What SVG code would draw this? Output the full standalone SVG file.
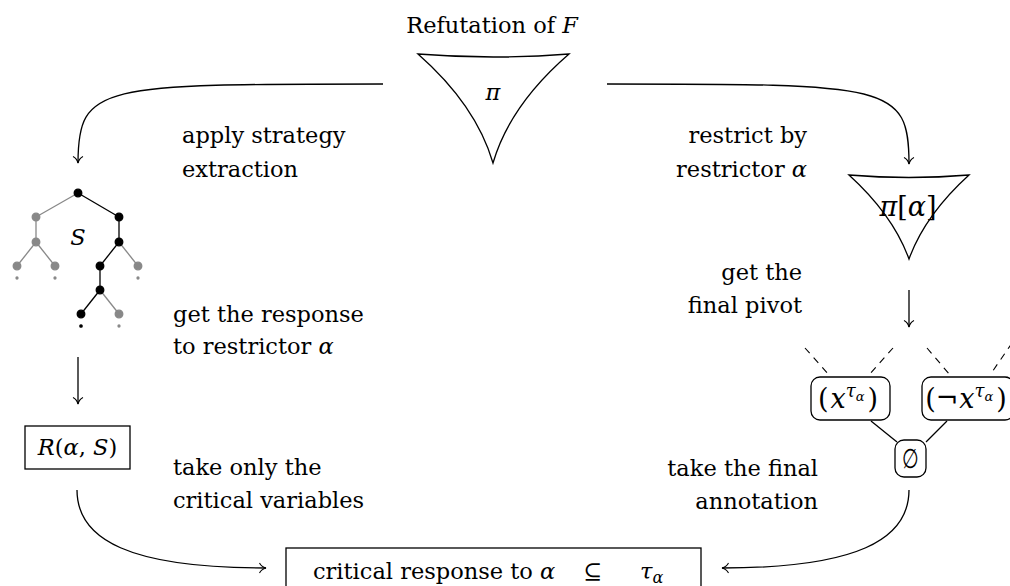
<svg xmlns="http://www.w3.org/2000/svg" width="1010" height="586" viewBox="0 0 1010 586">
<style>
text{font-family:"DejaVu Serif","Liberation Serif",serif;font-size:22.5px;fill:#000}
.m{font-style:italic}
.big{font-size:27px}
.edge{fill:none;stroke:#000;stroke-width:1.3}
.shape{fill:#fff;stroke:#000;stroke-width:1.3}
.g{stroke:#888;fill:#888}
.b{stroke:#000;fill:#000}
.tl{stroke-width:1.3}
.dash{stroke:#000;stroke-width:1.1;stroke-dasharray:7 6;fill:none}
</style>
<defs>
<marker id="arr" viewBox="-9 -7 11 14" markerWidth="11" markerHeight="14" refX="0" refY="0" orient="auto" markerUnits="userSpaceOnUse">
<path d="M-6.5,-5 C-5,-2 -2,-0.5 0,0 C-2,0.5 -5,2 -6.5,5" fill="none" stroke="#000" stroke-width="1.1"/>
</marker>
</defs>

<g id="connectors">
<path class="edge" d="M383,84 C100,84 78,84 78,163" marker-end="url(#arr)"/>
<path class="edge" d="M607,84 C889,84 909,84 909,164" marker-end="url(#arr)"/>
<path class="edge" d="M78,357 L78,404" marker-end="url(#arr)"/>
<path class="edge" d="M909,290 L909,327" marker-end="url(#arr)"/>
<path class="edge" d="M77,490 C77,540 130,568 266,568" marker-end="url(#arr)"/>
<path class="edge" d="M909,490 C909,540 856,568 722,568" marker-end="url(#arr)"/>
<path class="edge" d="M871,421 L897,442"/>
<path class="edge" d="M947,421 L926,442"/>
<path class="dash" d="M805,348 L829,375"/>
<path class="dash" d="M893,348 L869,375"/>
<path class="dash" d="M927,348 L950,375"/>
<path class="dash" d="M1012,343 L990,375"/>
</g>

<g id="refutation">
<text x="492" y="33" text-anchor="middle">Refutation of <tspan class="m">F</tspan></text>
<path class="shape" d="M418,54 Q493,60 569,54 Q510,105 493,163 Q476,105 418,54 Z"/>
<text x="493" y="100" text-anchor="middle" class="m">π</text>
</g>

<g id="label-apply">
<text x="182" y="143">apply strategy</text>
<text x="182" y="177">extraction</text>
</g>

<g id="label-restrict">
<text x="807" y="143" text-anchor="end">restrict by</text>
<text x="807" y="177" text-anchor="end">restrictor <tspan class="m">α</tspan></text>
</g>

<g id="restricted">
<path class="shape" d="M849,175 Q909,180 969,175 Q925,215 909,259 Q893,215 849,175 Z"/>
<text x="908" y="216" text-anchor="middle" class="big"><tspan class="m">π</tspan>[<tspan class="m">α</tspan>]</text>
</g>

<g id="label-pivot">
<text x="802" y="280" text-anchor="end">get the</text>
<text x="802" y="313" text-anchor="end">final pivot</text>
</g>

<g id="strategy-tree">
<g class="g tl">
<line x1="78" y1="193" x2="36" y2="217"/>
<line x1="36" y1="217" x2="36" y2="242"/>
<line x1="36" y1="242" x2="17" y2="266"/>
<line x1="36" y1="242" x2="55" y2="266"/>
<line x1="119" y1="242" x2="138" y2="266"/>
<line x1="100" y1="290" x2="119" y2="314"/>
<circle cx="36" cy="217" r="3.8"/>
<circle cx="36" cy="242" r="3.8"/>
<circle cx="17" cy="266" r="3.8"/>
<circle cx="55" cy="266" r="3.8"/>
<circle cx="138" cy="266" r="3.8"/>
<circle cx="119" cy="314" r="3.8"/>
<circle cx="17" cy="278" r="1"/>
<circle cx="55" cy="278" r="1"/>
<circle cx="138" cy="278" r="1"/>
<circle cx="119" cy="326" r="1"/>
</g>
<g class="b tl">
<line x1="78" y1="193" x2="119" y2="217"/>
<line x1="119" y1="217" x2="119" y2="242"/>
<line x1="119" y1="242" x2="100" y2="266"/>
<line x1="100" y1="266" x2="100" y2="290"/>
<line x1="100" y1="290" x2="81" y2="314"/>
<circle cx="78" cy="193" r="3.8"/>
<circle cx="119" cy="217" r="3.8"/>
<circle cx="119" cy="242" r="3.8"/>
<circle cx="100" cy="266" r="3.8"/>
<circle cx="100" cy="290" r="3.8"/>
<circle cx="81" cy="314" r="3.8"/>
<circle cx="81" cy="326" r="1.2"/>
</g>
<text x="78" y="245" text-anchor="middle" class="m">S</text>
</g>

<g id="label-response">
<text x="173" y="322">get the response</text>
<text x="173" y="354">to restrictor <tspan class="m">α</tspan></text>
</g>

<g id="response">
<rect class="shape" x="25" y="426" width="105" height="43"/>
<text x="77.5" y="455" text-anchor="middle"><tspan class="m">R</tspan>(<tspan class="m">α</tspan>, <tspan class="m">S</tspan>)</text>
</g>

<g id="label-critical">
<text x="173" y="475">take only the</text>
<text x="173" y="508">critical variables</text>
</g>

<g id="clause-pos">
<rect class="shape" x="811" y="377" width="79" height="43" rx="9"/>
<text x="848" y="408" text-anchor="middle" class="big">(<tspan class="m" dx="2">x</tspan><tspan class="m" font-size="18" dy="-11">τ</tspan><tspan class="m" font-size="13" dy="4">α</tspan><tspan dx="3" dy="7">)</tspan></text>
</g>

<g id="clause-neg">
<rect class="shape" x="922" y="377" width="92" height="43" rx="9"/>
<text x="966" y="408" text-anchor="middle" class="big">(¬<tspan class="m" dx="1">x</tspan><tspan class="m" font-size="18" dy="-11">τ</tspan><tspan class="m" font-size="13" dy="4">α</tspan><tspan dx="3" dy="7">)</tspan></text>
</g>

<g id="empty">
<rect class="shape" x="895" y="440" width="31" height="37" rx="9"/>
<text transform="translate(910.5,468) scale(0.85,1.2)" text-anchor="middle" font-size="25">∅</text>
</g>

<g id="label-annotation">
<text x="818" y="476" text-anchor="end">take the final</text>
<text x="818" y="509" text-anchor="end">annotation</text>
</g>

<g id="result">
<rect class="shape" x="286" y="548" width="415" height="50"/>
<text x="313" y="579">critical response to <tspan class="m">α</tspan></text>
<text x="593" y="579" text-anchor="middle">⊆</text>
<text x="640" y="579" class="m">τ<tspan font-size="16" dy="4">α</tspan></text>
</g>
</svg>
